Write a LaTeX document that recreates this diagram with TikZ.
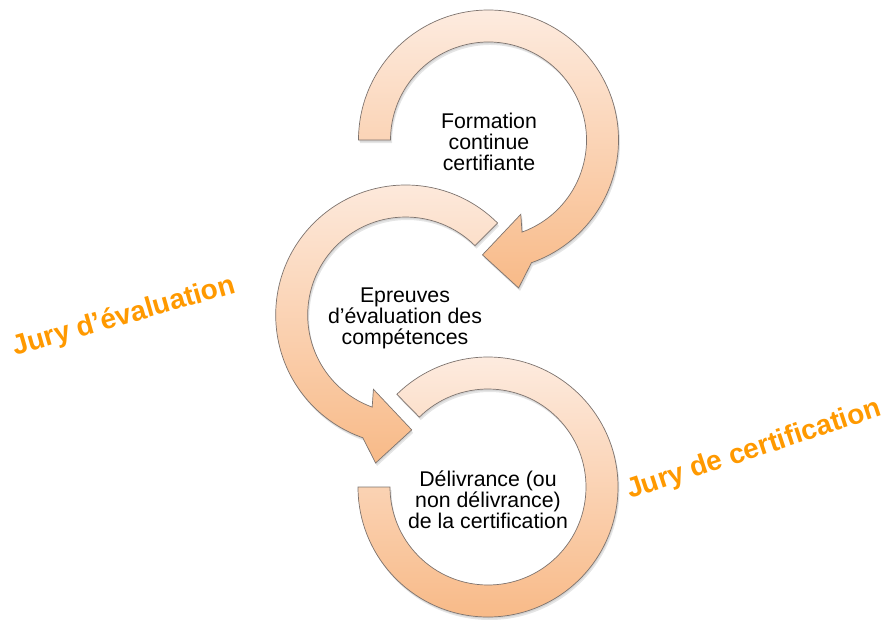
\documentclass[tikz,border=0pt]{standalone}
\usepackage{fontspec}
\setmainfont{Liberation Sans}
\definecolor{lite}{RGB}{253,235,223}
\definecolor{dark}{RGB}{248,186,136}
\definecolor{juryorange}{RGB}{255,153,0}
\definecolor{edge}{RGB}{125,115,110}
\tikzset{
  band/.style={draw=edge, line width=0.7pt, top color=lite, bottom color=dark,
    preaction={fill=black, opacity=0.10, transform canvas={shift={(1.5pt,-3pt)}}},
    preaction={fill=black, opacity=0.08, transform canvas={shift={(0.7pt,-1.5pt)}}}},
  lbl/.style={align=center, inner sep=0pt, font=\fontsize{21.3}{21}\selectfont},
  jury/.style={anchor=base west, inner sep=0pt, text=juryorange, font=\bfseries\fontsize{28}{30}\selectfont}
}
\begin{document}
\begin{tikzpicture}[x=1pt,y=1pt]
\useasboundingbox (0,0) rectangle (892,-619);
\coordinate (c1) at (488.5,-140);
\coordinate (c2) at (405.7,-315);
\coordinate (c3) at (488,-487);
% top arrow
\path[band] ([shift={(180:130)}]c1) arc[start angle=180,end angle=-70.7,radius=130]
  -- ([shift={(-78.5:151)}]c1) -- ([shift={(-93:115)}]c1) -- ([shift={(-66.5:81)}]c1)
  -- ([shift={(-70:98)}]c1) arc[start angle=-70,end angle=180,radius=98] -- cycle;
% middle arrow
\path[band] ([shift={(45:130)}]c2) arc[start angle=45,end angle=250.7,radius=130]
  -- ([shift={(258.5:151)}]c2) -- ([shift={(273:115)}]c2) -- ([shift={(246.5:81)}]c2)
  -- ([shift={(250:98)}]c2) arc[start angle=250,end angle=45,radius=98] -- cycle;
% bottom ring
\path[band] ([shift={(180:130)}]c3) arc[start angle=180,end angle=494.5,radius=130]
  -- ([shift={(134.5:98)}]c3) arc[start angle=134.5,end angle=-180,radius=98] -- cycle;
\node[lbl] (t1) at (489,-141.7) {Formation\\continue\\certifiante};
\node[lbl] (t2) at (405,-318.3) {Epreuves\\d’évaluation des\\compétences};
\node[lbl] (t3) at (488,-500.2) {Délivrance (ou\\non délivrance)\\de la certification};
\node[jury, rotate=16] (j1) at (15,-356) {Jury d’évaluation};
\node[jury, rotate=18.3] (j2) at (630,-499) {Jury de certification};
\end{tikzpicture}
\end{document}
